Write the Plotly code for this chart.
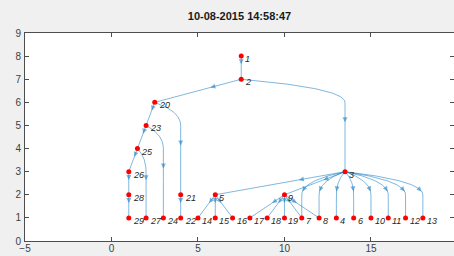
import numpy as np
import plotly.graph_objects as go

# ---- data ----
node_names = ["1", "2", "3", "4", "5", "6", "7", "8", "9", "10", "11", "12", "13", "14", "15",
              "16", "17", "18", "19", "20", "21", "22", "23", "24", "25", "26", "27", "28", "29"]
node_x = [7.5, 7.5, 13.5, 13, 6, 14, 11, 12, 10, 15, 16, 17, 18, 5, 6,
          7, 8, 9, 10, 2.5, 4, 4, 2, 3, 1.5, 1, 2, 1, 1]
node_y = [8, 7, 3, 1, 2, 1, 1, 1, 2, 1, 1, 1, 1, 1, 1,
          1, 1, 1, 1, 6, 2, 1, 5, 1, 4, 3, 1, 2, 1]
edge_src = ["1", "2", "2", "20", "20", "23", "23", "25", "25", "26", "28", "21",
            "3", "3", "3", "3", "3", "3", "3", "3", "3", "3",
            "5", "5", "5", "9", "9", "9", "9", "9"]
edge_dst = ["2", "20", "3", "23", "21", "25", "24", "26", "27", "28", "29", "22",
            "5", "9", "7", "8", "4", "6", "10", "11", "12", "13",
            "14", "15", "16", "17", "18", "19", "7", "8"]
x_ticks = [-5, 0, 5, 10, 15, 20]
y_ticks = [0, 1, 2, 3, 4, 5, 6, 7, 8, 9]
title_text = "10-08-2015 14:58:47"

pos = {n: (x, y) for n, x, y in zip(node_names, node_x, node_y)}

W, H = 454, 256
ML, MR, MT, MB = 25, 0, 33, 15
XR = [-5, 19.8]
YR = [0, 9]
SX = (W - ML - MR) / (XR[1] - XR[0])
SY = (H - MT - MB) / (YR[1] - YR[0])

EDGE_COL = "rgba(0,114,189,0.5)"


def edge_path(u, v):
    x0, y0 = pos[u]
    x1, y1 = pos[v]
    if y0 - y1 <= 1.0001:
        t = np.linspace(0, 1, 60)
        return x0 + (x1 - x0) * t, y0 + (y1 - y0) * t
    # curve to layer below at target x, then straight down
    t = np.linspace(0, 1, 80)
    dx = x1 - x0
    P0 = np.array([x0, y0])
    P1 = np.array([x0 + 0.5 * dx, y0 - 0.2])
    P2 = np.array([x1, y0 - 0.5])
    P3 = np.array([x1, y0 - 1])
    b = (np.outer((1 - t) ** 3, P0) + np.outer(3 * (1 - t) ** 2 * t, P1)
         + np.outer(3 * (1 - t) * t ** 2, P2) + np.outer(t ** 3, P3))
    ys = np.linspace(y0 - 1, y1, 60)[1:]
    xs = np.full_like(ys, x1)
    return np.concatenate([b[:, 0], xs]), np.concatenate([b[:, 1], ys])


fig = go.Figure()
annotations = []
for u, v in zip(edge_src, edge_dst):
    px_, py_ = edge_path(u, v)
    fig.add_trace(go.Scatter(x=px_, y=py_, mode="lines", line=dict(color=EDGE_COL, width=1),
                             hoverinfo="skip", showlegend=False))
    y0, y1 = pos[u][1], pos[v][1]
    ytip = (y0 + y1) / 2 + 0.15
    idx = int(np.argmax(py_ <= ytip))
    tx, ty = px_[idx], py_[idx]
    j = idx
    while j > 0 and np.hypot((px_[j] - tx) * SX, (py_[j] - ty) * SY) < 4:
        j -= 1
    annotations.append(dict(x=tx, y=ty, ax=px_[j], ay=py_[j], xref="x", yref="y",
                            axref="x", ayref="y", text="", showarrow=True,
                            arrowhead=2, arrowsize=1.0, arrowwidth=1,
                            arrowcolor="rgba(0,114,189,0.5)", standoff=0))

fig.add_trace(go.Scatter(x=node_x, y=node_y, mode="markers",
                         marker=dict(color="#ff0000", size=5, line=dict(width=0)),
                         hoverinfo="skip", showlegend=False))

for n, x, y in zip(node_names, node_x, node_y):
    annotations.append(dict(x=x, y=y, xref="x", yref="y", text="<i>" + n + "</i>",
                            showarrow=False, xanchor="left", yanchor="middle",
                            xshift=2, yshift=-3,
                            font=dict(family="Liberation Sans", size=9, color="#262626")))

axis_common = dict(showgrid=False, zeroline=False, showline=True, mirror="ticks",
                   linecolor="#4d4d4d", linewidth=1, ticks="inside", ticklen=4,
                   tickcolor="#4d4d4d", automargin=False,
                   tickfont=dict(family="Liberation Sans", size=10, color="#404040"))

fig.update_layout(
    template="none",
    width=W, height=H,
    margin=dict(l=ML, r=MR, t=MT, b=MB, pad=0),
    paper_bgcolor="#f0f0f0", plot_bgcolor="white",
    title=dict(text="<b>" + title_text + "</b>", x=0.5, xref="paper", y=1 - 16 / H,
               yref="container", yanchor="middle", xanchor="center",
               font=dict(family="Liberation Sans", size=11, color="#1a1a1a")),
    xaxis=dict(range=XR, tickvals=x_ticks, ticklabelstandoff=-2, **axis_common),
    yaxis=dict(range=YR, tickvals=y_ticks, ticklabelstandoff=1, **axis_common),
    annotations=annotations,
)

fig.write_html("out.html",
               config={"displayModeBar": False},
               post_script="document.body.style.margin='0';"
                           "document.body.style.overflow='hidden';"
                           "document.body.style.background='#f0f0f0';")
